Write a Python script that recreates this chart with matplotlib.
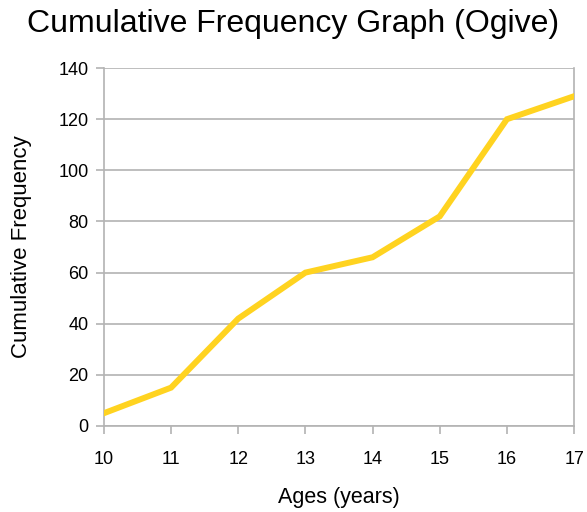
import matplotlib
matplotlib.use("Agg")
import matplotlib.pyplot as plt

ages = [10, 11, 12, 13, 14, 15, 16, 17]
cum_freq = [5, 15, 42, 60, 66, 82, 120, 129]
y_ticks = [0, 20, 40, 60, 80, 100, 120, 140]

plt.rcParams['font.family'] = ['Liberation Sans', 'DejaVu Sans']

grid_col = '#b3b3b3'

fig = plt.figure(figsize=(5.87, 5.12), dpi=100)
ax = fig.add_axes([0.177, 0.168, 0.801, 0.699])

ax.plot(ages, cum_freq, color='#ffd320', linewidth=4.3, solid_joinstyle='miter', zorder=3)

ax.set_xlim(10, 17)
ax.set_ylim(0, 140)
ax.set_xticks(ages)
ax.set_yticks(y_ticks)
ax.grid(axis='y', color=grid_col, linewidth=1.2)
ax.set_axisbelow(True)

for side in ['left', 'right', 'bottom']:
    ax.spines[side].set_color(grid_col)
    ax.spines[side].set_linewidth(1.2)
ax.spines['top'].set_visible(False)

ax.tick_params(axis='both', colors=grid_col, length=6, width=1.2, labelsize=13,
               labelcolor='black')
ax.tick_params(axis='x', pad=12)
ax.tick_params(axis='y', pad=5)

ax.set_xlabel('Ages (years)', fontsize=15.5, labelpad=14)
ax.set_ylabel('Cumulative Frequency', fontsize=16, labelpad=19)
fig.suptitle('Cumulative Frequency Graph (Ogive)', fontsize=23, y=0.982)

fig.savefig('out.png', dpi=100)
